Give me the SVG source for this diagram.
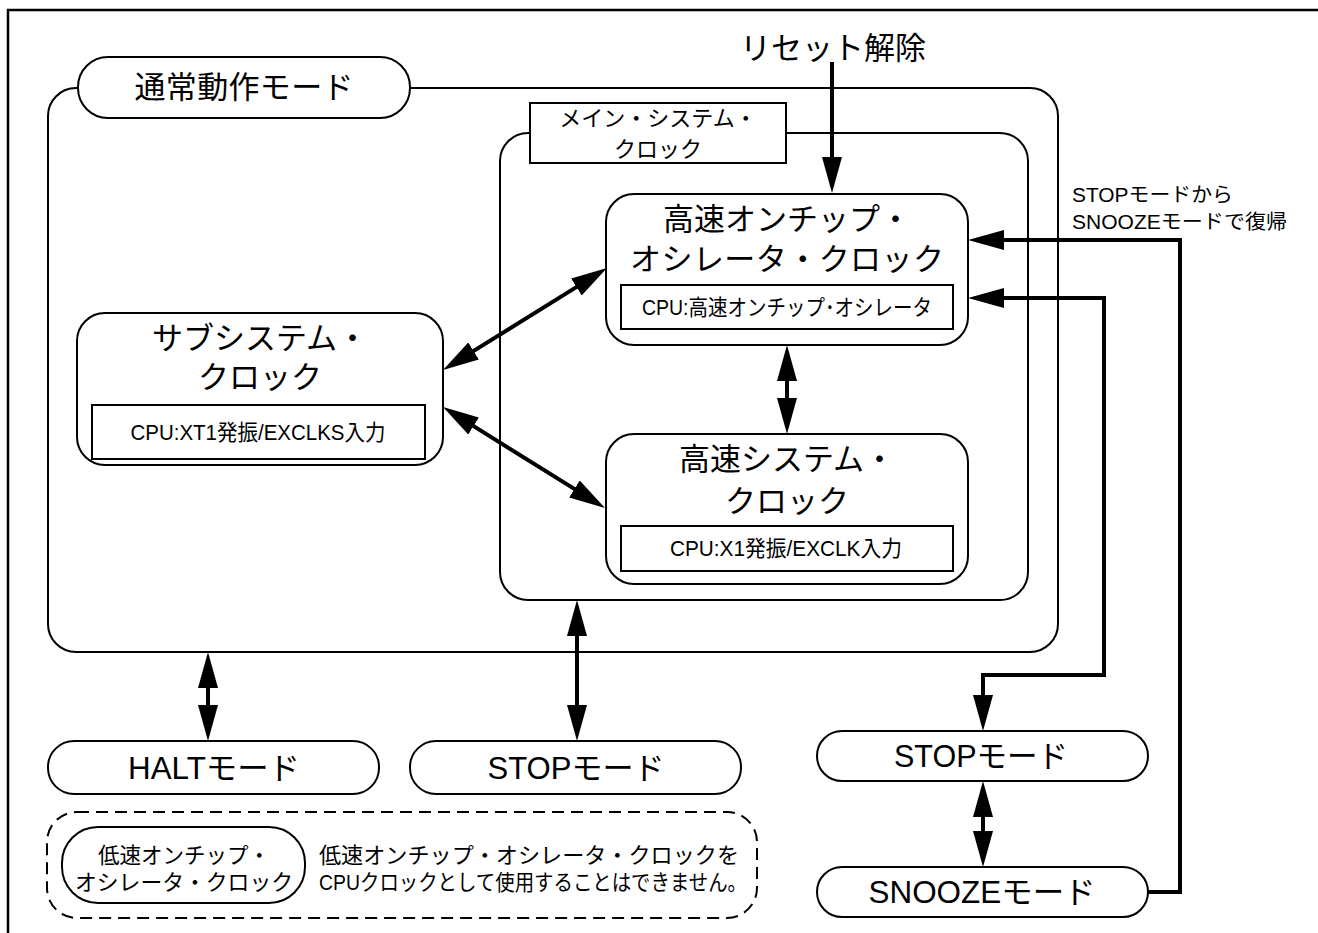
<svg xmlns="http://www.w3.org/2000/svg" width="1318" height="933" viewBox="0 0 1318 933">
<style>
.t{font-family:"Liberation Sans","Noto Sans CJK JP",sans-serif;fill:#000;dominant-baseline:central}
.box{fill:#fff;stroke:#000;stroke-width:2}
.con{fill:none;stroke:#000;stroke-width:4}
.big{font-size:31px}
.mid{font-size:31px}
.sm{font-size:22px}
.lbl{font-size:22px}
.note{font-size:20px}
</style>
<defs>
<marker id="ah" markerUnits="userSpaceOnUse" markerWidth="36" markerHeight="20" refX="16" refY="10" orient="auto-start-reverse" viewBox="0 0 36 20">
<path d="M0,0 L36,10 L0,20 z" fill="#000"/>
</marker>
</defs>
<rect width="1318" height="933" fill="#fff"/>
<path d="M8,933 V10 H1318" fill="none" stroke="#000" stroke-width="2.5"/>

<g id="normal-mode">
<rect class="box" x="48" y="88" width="1010" height="564" rx="28"/>
<rect class="box" x="78" y="57" width="332" height="61" rx="30"/>
<text class="t big" x="244" y="87" text-anchor="middle" textLength="219">通常動作モード</text>
</g>

<g id="main-system-clock">
<rect class="box" x="500" y="133" width="528" height="467" rx="28"/>
<rect class="box" x="530" y="103" width="256" height="60"/>
<text class="t lbl" x="658" y="118" text-anchor="middle">メイン・システム・</text>
<text class="t lbl" x="658" y="149" text-anchor="middle">クロック</text>
</g>

<g id="reset">
<text class="t big" x="833" y="48" text-anchor="middle" textLength="186">リセット解除</text>
</g>

<g id="hoco">
<rect class="box" x="606" y="194" width="362" height="151" rx="28"/>
<text class="t big" x="787" y="219" text-anchor="middle">高速オンチップ・</text>
<text class="t big" x="787" y="259" text-anchor="middle" textLength="314">オシレータ・クロック</text>
<rect class="box" x="621" y="285" width="332" height="44"/>
<text class="t sm" x="787" y="307" text-anchor="middle" textLength="290" lengthAdjust="spacingAndGlyphs">CPU:高速オンチップ･オシレータ</text>
</g>

<g id="subsystem">
<rect class="box" x="77" y="313" width="366" height="152" rx="28"/>
<text class="t big" x="260" y="338" text-anchor="middle">サブシステム・</text>
<text class="t big" x="260" y="377" text-anchor="middle">クロック</text>
<rect class="box" x="92" y="405" width="333" height="54"/>
<text class="t sm" x="258" y="432" text-anchor="middle" textLength="255" lengthAdjust="spacingAndGlyphs">CPU:XT1発振/EXCLKS入力</text>
</g>

<g id="hs-system">
<rect class="box" x="606" y="434" width="362" height="150" rx="28"/>
<text class="t big" x="787" y="459" text-anchor="middle">高速システム・</text>
<text class="t big" x="787" y="501" text-anchor="middle">クロック</text>
<rect class="box" x="621" y="526" width="332" height="45"/>
<text class="t sm" x="786" y="548" text-anchor="middle" textLength="232" lengthAdjust="spacingAndGlyphs">CPU:X1発振/EXCLK入力</text>
</g>

<g id="halt">
<rect class="box" x="48" y="741" width="331" height="53" rx="26"/>
<text class="t mid" x="214" y="768" text-anchor="middle" textLength="172" lengthAdjust="spacingAndGlyphs">HALTモード</text>
</g>

<g id="stop-left">
<rect class="box" x="410" y="741" width="331" height="53" rx="26"/>
<text class="t mid" x="576" y="768" text-anchor="middle" textLength="177" lengthAdjust="spacingAndGlyphs">STOPモード</text>
</g>

<g id="stop-right">
<rect class="box" x="817" y="731" width="331" height="50" rx="25"/>
<text class="t mid" x="981" y="756" text-anchor="middle" textLength="174" lengthAdjust="spacingAndGlyphs">STOPモード</text>
</g>

<g id="snooze">
<rect class="box" x="817" y="867" width="331" height="50" rx="25"/>
<text class="t mid" x="982" y="892" text-anchor="middle" textLength="227" lengthAdjust="spacingAndGlyphs">SNOOZEモード</text>
</g>

<g id="return-note">
<text class="t note" x="1072" y="195" textLength="161" lengthAdjust="spacingAndGlyphs">STOPモードから</text>
<text class="t note" x="1072" y="222" textLength="215" lengthAdjust="spacingAndGlyphs">SNOOZEモードで復帰</text>
</g>

<g id="loco-note">
<rect x="47" y="812" width="710" height="106" rx="30" fill="none" stroke="#000" stroke-width="2" stroke-dasharray="12 7"/>
<rect class="box" x="62" y="827" width="243" height="76" rx="36"/>
<text class="t lbl" x="184" y="855" text-anchor="middle" textLength="172" lengthAdjust="spacingAndGlyphs">低速オンチップ・</text>
<text class="t lbl" x="184" y="882" text-anchor="middle" textLength="218" lengthAdjust="spacingAndGlyphs">オシレータ・クロック</text>
<text class="t lbl" x="319" y="855" textLength="420" lengthAdjust="spacingAndGlyphs">低速オンチップ・オシレータ・クロックを</text>
<text class="t lbl" x="319" y="882" textLength="428" lengthAdjust="spacingAndGlyphs">CPUクロックとして使用することはできません。</text>
</g>

<g id="connectors">
<path class="con" d="M832,62 V173" marker-end="url(#ah)"/>
<path class="con" d="M460,359.4 L590,278.6" marker-start="url(#ah)" marker-end="url(#ah)"/>
<path class="con" d="M460,417.6 L588,497.4" marker-start="url(#ah)" marker-end="url(#ah)"/>
<path class="con" d="M787,365 V414" marker-start="url(#ah)" marker-end="url(#ah)"/>
<path class="con" d="M208,672 V721" marker-start="url(#ah)" marker-end="url(#ah)"/>
<path class="con" d="M577,620 V721" marker-start="url(#ah)" marker-end="url(#ah)"/>
<path class="con" d="M983,801 V847" marker-start="url(#ah)" marker-end="url(#ah)"/>
<path class="con" d="M988,298 H1104 V675 H983 V711" marker-start="url(#ah)" marker-end="url(#ah)"/>
<path class="con" d="M1148,892 H1180 V240 H988" marker-end="url(#ah)"/>
</g>
</svg>
